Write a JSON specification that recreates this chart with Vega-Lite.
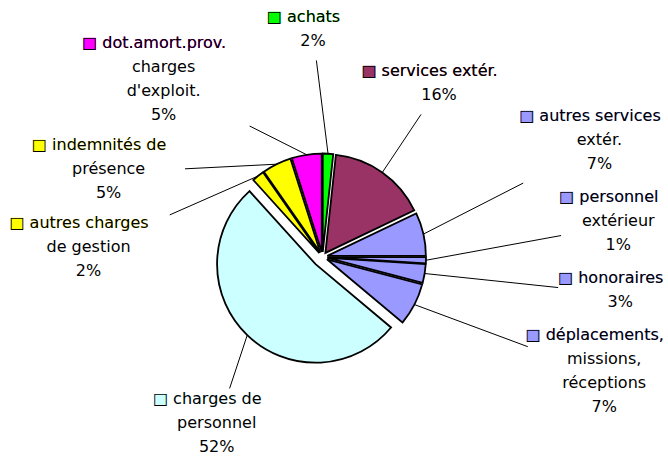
{
  "$schema": "https://vega.github.io/schema/vega-lite/v6.json",
  "width": 668,
  "height": 457,
  "autosize": {"type": "none"},
  "padding": 0,
  "background": "white",
  "config": {"view": {"stroke": null}},
  "data": {
    "values": [
      {"poste": "achats", "valeur": 1.7},
      {"poste": "services extér.", "valeur": 16.2},
      {"poste": "autres services\nextér.", "valeur": 7.1},
      {"poste": "personnel\nextérieur", "valeur": 1.0},
      {"poste": "honoraires", "valeur": 3.1},
      {"poste": "déplacements,\nmissions,\nréceptions", "valeur": 7.0},
      {"poste": "charges de\npersonnel", "valeur": 52.2},
      {"poste": "autres charges\nde gestion", "valeur": 2.0},
      {"poste": "indemnités de\nprésence", "valeur": 4.8},
      {"poste": "dot.amort.prov.\ncharges\nd'exploit.", "valeur": 4.9}
    ]
  },
  "transform": [
    {"stack": "valeur", "groupby": [], "as": ["f0", "f1"], "offset": "normalize"},
    {"calculate": "length(split(datum.poste, '\\n')) + 1", "as": "n"},
    {"calculate": "datum.valeur + 1.5 * datum.n", "as": "poids"},
    {"stack": "poids", "groupby": [], "as": ["g0", "g1"], "offset": "normalize"},
    {"calculate": "PI * (datum.f0 + datum.f1)", "as": "m"},
    {"calculate": "datum.valeur > 50 ? 10 : 5", "as": "d"},
    {"calculate": "datum.d * sin(datum.m)", "as": "ax"},
    {"calculate": "datum.d * cos(datum.m)", "as": "ay"},
    {"calculate": "0.95 * PI * (datum.g0 + datum.g1) - 0.138", "as": "t0"},
    {"calculate": "datum.t0 - (sin(datum.t0) > 0 ? 0.055 : 0)", "as": "t"},
    {"calculate": "sin(datum.t) > 0.6 ? 'D' : (sin(datum.t) < -0.3 ? 'G' : 'H')", "as": "cote"},
    {"calculate": "datum.cote == 'D' ? 298 * sqrt(sin(datum.t)) : (datum.cote == 'G' ? -236 * pow(-sin(datum.t), 0.85) : sin(datum.t) * (sin(datum.t) > 0 ? 298 : 236))", "as": "lx"},
    {"calculate": "cos(datum.t) <= 0 ? 185 * cos(datum.t) : (datum.cote == 'H' ? 224 * pow(cos(datum.t), 2.5) : 224 * cos(datum.t))", "as": "ly0"},
    {"calculate": "datum.ly0 + datum.n * 12", "as": "ytop0"},
    {"calculate": "datum.n * 24 + (datum.cote == 'D' ? 9 : 6)", "as": "hgap"},
    {"window": [{"op": "sum", "field": "hgap", "as": "sincl"}], "groupby": ["cote"], "sort": [{"field": "ytop0", "order": "descending"}], "frame": [null, 0]},
    {"calculate": "datum.sincl - datum.hgap", "as": "sexcl"},
    {"calculate": "datum.ytop0 + datum.sexcl", "as": "q"},
    {"window": [{"op": "min", "field": "q", "as": "qmin"}], "groupby": ["cote"], "sort": [{"field": "ytop0", "order": "descending"}], "frame": [null, 0]},
    {"calculate": "datum.qmin - datum.sexcl", "as": "ytop"},
    {"calculate": "datum.ytop - 24", "as": "ytop2"},
    {"calculate": "datum.ytop - datum.n * 12", "as": "ly"},
    {"calculate": "split(datum.poste, '\\n')[0]", "as": "l1"},
    {"calculate": "'□\u00a0' + datum.l1", "as": "t1"},
    {"calculate": "'■\u00a0' + datum.l1", "as": "coul"},
    {"calculate": "(length(datum.poste) > length(datum.l1) ? slice(datum.poste, length(datum.l1) + 1) + '\\n' : '') + format(datum.valeur, '.0f') + '%'", "as": "reste"},
    {"calculate": "(datum.d + 98.5) * sin(datum.m)", "as": "sx"},
    {"calculate": "(datum.d + 98.5) * cos(datum.m)", "as": "sy"},
    {"calculate": "4.8 * length(datum.l1) + 14", "as": "hw"},
    {"calculate": "datum.n * 12 + 3", "as": "hh"},
    {"calculate": "min(datum.hw / max(abs(datum.sx - datum.lx), 0.01), datum.hh / max(abs(datum.sy - datum.ly), 0.01))", "as": "s"},
    {"calculate": "datum.lx + datum.s * (datum.sx - datum.lx)", "as": "ex"},
    {"calculate": "datum.ly + datum.s * (datum.sy - datum.ly)", "as": "ey"}
  ],
  "layer": [
    {
      "mark": {"type": "arc", "radius": 98.5, "stroke": "black", "strokeWidth": 1.8},
      "encoding": {
        "x": {"field": "ax", "type": "quantitative", "scale": {"domain": [-322.5, 345.5], "nice": false, "zero": false}, "axis": null},
        "y": {"field": "ay", "type": "quantitative", "scale": {"domain": [-200, 257], "nice": false, "zero": false}, "axis": null},
        "theta": {"field": "f0", "type": "quantitative", "stack": null, "scale": {"domain": [0, 1], "range": [0, 6.283185307179586]}},
        "theta2": {"field": "f1"},
        "color": {
          "field": "poste", "type": "nominal", "legend": null,
          "scale": {
            "domain": ["achats", "services extér.", "autres services\nextér.", "personnel\nextérieur", "honoraires", "déplacements,\nmissions,\nréceptions", "charges de\npersonnel", "autres charges\nde gestion", "indemnités de\nprésence", "dot.amort.prov.\ncharges\nd'exploit."],
            "range": ["#00FF00", "#993366", "#9999FF", "#9999FF", "#9999FF", "#9999FF", "#CCFFFF", "#FFFF00", "#FFFF00", "#FF00FF"]
          }
        }
      }
    },
    {
      "mark": {"type": "rule", "stroke": "black", "strokeWidth": 1},
      "encoding": {
        "x": {"field": "sx", "type": "quantitative", "scale": {"domain": [-322.5, 345.5], "nice": false, "zero": false}, "axis": null},
        "y": {"field": "sy", "type": "quantitative", "scale": {"domain": [-200, 257], "nice": false, "zero": false}, "axis": null},
        "x2": {"field": "ex"},
        "y2": {"field": "ey"}
      }
    },
    {
      "mark": {"type": "text", "font": "DejaVu Sans", "fontSize": 16, "align": "center", "baseline": "top", "dx": -9.5},
      "encoding": {
        "x": {"field": "lx", "type": "quantitative", "scale": {"domain": [-322.5, 345.5], "nice": false, "zero": false}, "axis": null},
        "y": {"field": "ytop", "type": "quantitative", "scale": {"domain": [-200, 257], "nice": false, "zero": false}, "axis": null},
        "text": {"field": "coul"},
        "color": {"field": "poste", "type": "nominal", "legend": null}
      }
    },
    {
      "mark": {"type": "text", "font": "DejaVu Sans", "fontSize": 16, "align": "center", "baseline": "top", "dx": -9.5, "color": "black"},
      "encoding": {
        "x": {"field": "lx", "type": "quantitative", "scale": {"domain": [-322.5, 345.5], "nice": false, "zero": false}, "axis": null},
        "y": {"field": "ytop", "type": "quantitative", "scale": {"domain": [-200, 257], "nice": false, "zero": false}, "axis": null},
        "text": {"field": "t1"}
      }
    },
    {
      "mark": {"type": "text", "font": "DejaVu Sans", "fontSize": 16, "align": "center", "baseline": "top", "lineHeight": 24, "lineBreak": "\n", "color": "black"},
      "encoding": {
        "x": {"field": "lx", "type": "quantitative", "scale": {"domain": [-322.5, 345.5], "nice": false, "zero": false}, "axis": null},
        "y": {"field": "ytop2", "type": "quantitative", "scale": {"domain": [-200, 257], "nice": false, "zero": false}, "axis": null},
        "text": {"field": "reste"}
      }
    }
  ]
}
